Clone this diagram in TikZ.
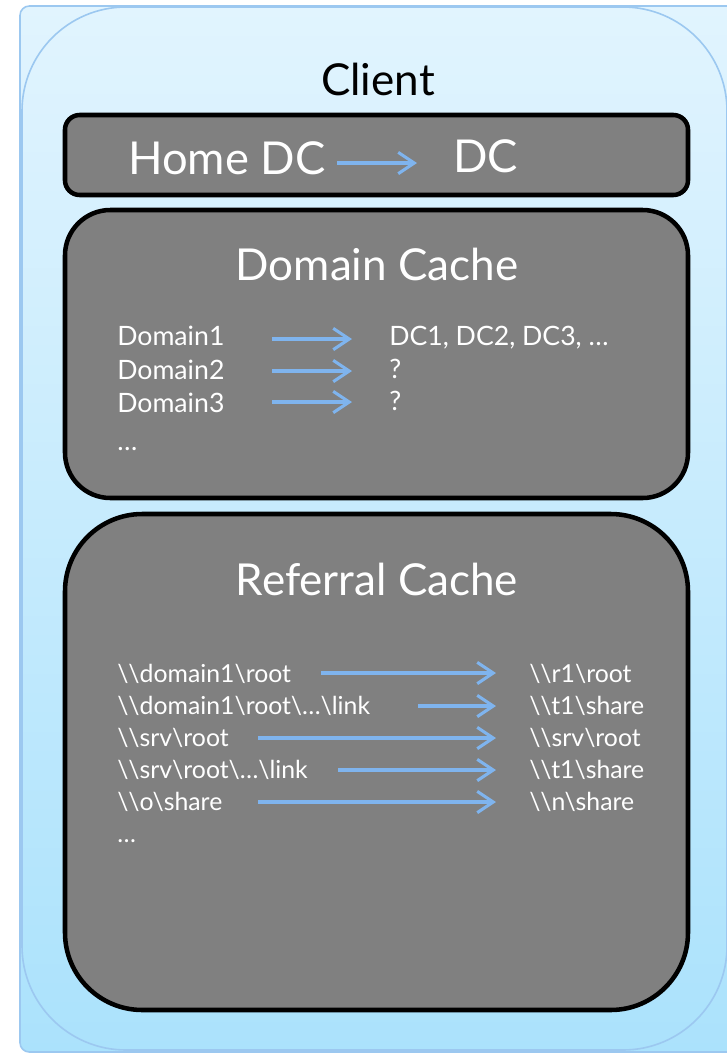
\documentclass[tikz,border=0pt]{standalone}
\usepackage{fontspec}
\setmainfont{Lato}
\usetikzlibrary{arrows.meta}

\definecolor{panetop}{HTML}{E1F4FE}
\definecolor{panebottom}{HTML}{ABE2FC}
\definecolor{paneline}{HTML}{9CC8F0}
\definecolor{cachefill}{HTML}{808080}
\definecolor{linkblue}{HTML}{7FB4EE}

\begin{document}
\begin{tikzpicture}[x=0.75pt,y=-0.75pt,
    pane/.style={draw=paneline, line width=1.2pt, top color=panetop, bottom color=panebottom},
    cache/.style={draw=black, line width=3.4pt, fill=cachefill},
    maplink/.style={draw=linkblue, line width=2.3pt, -{Straight Barb[length=12pt,width=16pt]}},
    head/.style={anchor=base, inner sep=0pt, text=white, font=\fontsize{33}{36}\selectfont},
    entry/.style={anchor=base west, inner sep=0pt, text=white, font=\fontsize{20}{24}\selectfont},
    refentry/.style={entry, font=\fontsize{18.6}{22}\selectfont}]
      \useasboundingbox (0,0) rectangle (727,1054);
      \clip (0,0) rectangle (727,1054);
      % client panes
      \draw [pane, rounded corners=7pt] (20,6) rectangle (760,1052);
      \draw [pane, rounded corners=78pt] (22,7) rectangle (727,1050);
      \node [anchor=base, inner sep=0pt, font=\fontsize{33}{36}\selectfont] (client) at (378,95) {Client};
      % home dc
      \draw [cache, rounded corners=11pt] (65,115) rectangle (688,195);
      \node [head, anchor=base west, font=\fontsize{34}{36}\selectfont] (homedc) at (128,174) {Home DC};
      \node [head, anchor=base west, font=\fontsize{34}{36}\selectfont] (dc) at (453,172) {DC};
      \coordinate (hds) at (337,163);
      \coordinate (hde) at (417,163);
      \draw [maplink] (hds) -- (hde);
      % domain cache
      \draw [cache, rounded corners=34pt] (65,210) rectangle (688,498);
      \node [head] (domaintitle) at (377,280) {Domain Cache};
      \node [entry] (dom1) at (117,345) {Domain1};
      \node [entry] (dom2) at (117,379) {Domain2};
      \node [entry] (dom3) at (117,412) {Domain3};
      \node [entry] (domdots) at (117,450) {\dots};
      \node [entry] (dcs1) at (389,345) {DC1, DC2, DC3, \dots};
      \node [entry] (dcs2) at (389,378) {?};
      \node [entry] (dcs3) at (389,410) {?};
      \coordinate (ds1) at (272,339);
      \coordinate (de1) at (352,339);
      \coordinate (ds2) at (272,371);
      \coordinate (de2) at (352,371);
      \coordinate (ds3) at (272,402);
      \coordinate (de3) at (352,402);
      \draw [maplink] (ds1) -- (de1);
      \draw [maplink] (ds2) -- (de2);
      \draw [maplink] (ds3) -- (de3);
      % referral cache
      \draw [cache, rounded corners=58pt] (65,514) rectangle (688,1010);
      \node [head] (reftitle) at (377,595) {Referral Cache};
      \node [refentry] (ref1) at (117,682) {\textbackslash\textbackslash domain1\textbackslash root};
      \node [refentry] (ref2) at (117,714) {\textbackslash\textbackslash domain1\textbackslash root\textbackslash\dots\textbackslash link};
      \node [refentry] (ref3) at (117,746) {\textbackslash\textbackslash srv\textbackslash root};
      \node [refentry] (ref4) at (117,778) {\textbackslash\textbackslash srv\textbackslash root\textbackslash\dots\textbackslash link};
      \node [refentry] (ref5) at (117,810) {\textbackslash\textbackslash o\textbackslash share};
      \node [refentry] (refdots) at (117,842) {\dots};
      \node [refentry] (tgt1) at (529,682) {\textbackslash\textbackslash r1\textbackslash root};
      \node [refentry] (tgt2) at (529,714) {\textbackslash\textbackslash t1\textbackslash share};
      \node [refentry] (tgt3) at (529,746) {\textbackslash\textbackslash srv\textbackslash root};
      \node [refentry] (tgt4) at (529,778) {\textbackslash\textbackslash t1\textbackslash share};
      \node [refentry] (tgt5) at (529,810) {\textbackslash\textbackslash n\textbackslash share};
      \coordinate (rs1) at (321,673);
      \coordinate (re1) at (496,673);
      \coordinate (rs2) at (418,706);
      \coordinate (re2) at (496,706);
      \coordinate (rs3) at (258,738);
      \coordinate (re3) at (496,738);
      \coordinate (rs4) at (338,770);
      \coordinate (re4) at (496,770);
      \coordinate (rs5) at (258,802);
      \coordinate (re5) at (496,802);
      \draw [maplink] (rs1) -- (re1);
      \draw [maplink] (rs2) -- (re2);
      \draw [maplink] (rs3) -- (re3);
      \draw [maplink] (rs4) -- (re4);
      \draw [maplink] (rs5) -- (re5);
\end{tikzpicture}
\end{document}
